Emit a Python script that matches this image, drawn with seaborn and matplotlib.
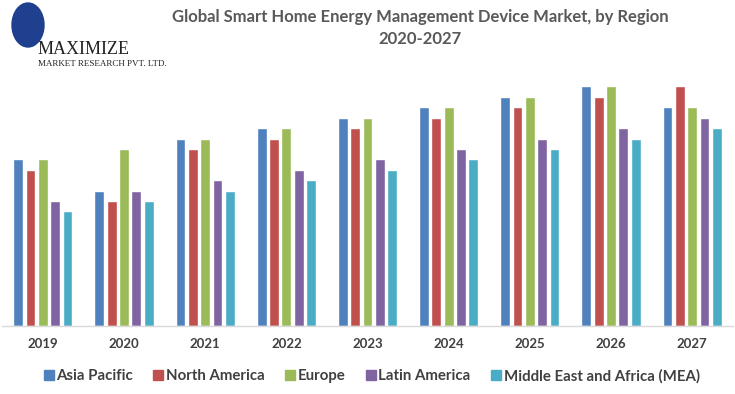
import numpy as np
import pandas as pd
import matplotlib
matplotlib.use("Agg")
import matplotlib.pyplot as plt
import seaborn as sns
from matplotlib.patches import Ellipse

# ============================================================
# DATA (arbitrary units)
# ============================================================
years = ["2019", "2020", "2021", "2022", "2023", "2024", "2025", "2026", "2027"]
regions = ["Asia Pacific", "North America", "Europe", "Latin America",
           "Middle East and Africa (MEA)"]
asia_pacific = [16, 13, 18, 19, 20, 21, 22, 23, 21]
north_america = [15, 12, 17, 18, 19, 20, 21, 22, 23]
europe = [16, 17, 18, 19, 20, 21, 22, 23, 21]
latin_america = [12, 13, 14, 15, 16, 17, 18, 19, 20]
mea = [11, 12, 13, 14, 15, 16, 17, 18, 19]

colors = ["#4F81BD", "#C0504D", "#9BBB59", "#8064A2", "#4BACC6"]

series = [asia_pacific, north_america, europe, latin_america, mea]
df = pd.DataFrame({
    "year": np.tile(years, len(regions)),
    "region": np.repeat(regions, len(years)),
    "value": np.concatenate(series),
})

# ============================================================
# PLOT
# ============================================================
sns.set_style("white")
plt.rcParams["font.family"] = ["Lato", "DejaVu Sans"]

fig = plt.figure(figsize=(7.35, 3.94), dpi=100)
ax = fig.add_axes([0.003, 1 - 326 / 394, 0.994, (326 - 76) / 394])

sns.barplot(data=df, x="year", y="value", hue="region", order=years,
            hue_order=regions, palette=colors, width=0.76, saturation=1,
            ax=ax, legend=False)

# small gaps between bars
for p in ax.patches:
    w = p.get_width()
    p.set_x(p.get_x() + w * 0.1)
    p.set_width(w * 0.8)

ax.set_ylim(0, 24)
ax.set_xlim(-0.5, len(years) - 0.5)
ax.set_xlabel("")
ax.set_ylabel("")
ax.set_yticks([])
for s in ["top", "right", "left"]:
    ax.spines[s].set_visible(False)
ax.spines["bottom"].set_color("#d9d9d9")
ax.spines["bottom"].set_linewidth(1)
ax.tick_params(axis="x", length=0, pad=9, labelsize=9.5, labelcolor="#404040")
for lbl in ax.get_xticklabels():
    lbl.set_fontweight("bold")

# legend
handles = [plt.Line2D([], [], marker="s", linestyle="", markersize=7,
                      color=c) for c in colors]
fig.legend(handles, regions, loc="center", ncol=5,
           bbox_to_anchor=(0.505, 1 - 376 / 394), frameon=False,
           handletextpad=0.1, columnspacing=1.3, handlelength=0.8,
           prop={"weight": "bold", "size": 10.8}, labelcolor="#404040")

# title
fig.text(0.572, 1 - 17 / 394, "Global Smart Home Energy Management Device Market, by Region",
         ha="center", va="center", fontsize=12, fontweight="bold", color="#595959")
fig.text(0.572, 1 - 39 / 394, "2020-2027", ha="center", va="center",
         fontsize=12, fontweight="bold", color="#595959")

# logo (approximation)
fig.patches.append(Ellipse((28 / 735, 1 - 25 / 394), 32 / 735, 44 / 394,
                           transform=fig.transFigure, color="#1f3f8f", zorder=3))
fig.text(38 / 735, 1 - 49 / 394, "MAXIMIZE", fontsize=13, family="Liberation Serif",
         color="#222222", ha="left", va="center")
fig.text(38 / 735, 1 - 64 / 394, "MARKET RESEARCH PVT. LTD.", fontsize=6.5,
         family="Liberation Serif", color="#222222", ha="left", va="center")

fig.savefig("out.png", dpi=100)
